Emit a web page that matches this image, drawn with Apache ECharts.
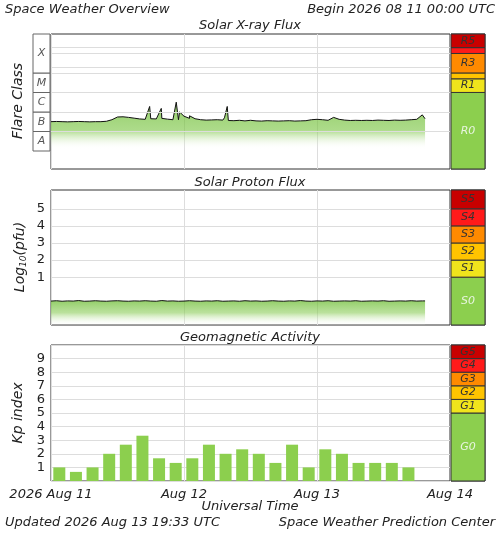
<!DOCTYPE html>
<html><head><meta charset="utf-8">
<script src="https://cdn.jsdelivr.net/npm/echarts@6/dist/echarts.min.js"></script>
<style>html,body{margin:0;padding:0;background:#fff}#c{width:500px;height:533px}</style>
</head><body><div id="c"></div>
<script>
// X-ray flux: log10(W/m2), hourly from 2026-08-11 00:00 UTC
const xrayHourly = [-6.50,-6.49,-6.50,-6.51,-6.50,-6.49,-6.50,-6.51,-6.50,-6.50,-6.48,
 -6.40,-6.26,-6.25,-6.28,-6.32,-6.36,-6.38,-6.35,-6.36,-6.33,-6.37,-6.40,-6.40,
 -6.22,-6.33,-6.35,-6.40,-6.42,-6.41,-6.40,-6.42,-6.44,-6.45,-6.43,-6.46,
 -6.43,-6.46,-6.47,-6.45,-6.46,-6.47,-6.46,-6.45,-6.47,-6.46,-6.45,-6.40,
 -6.38,-6.40,-6.43,-6.28,-6.38,-6.42,-6.44,-6.43,-6.44,-6.43,-6.44,-6.42,
 -6.43,-6.44,-6.42,-6.43,-6.42,-6.40,-6.38,-6.15];
const xraySpikes = [[17.8,-5.72],[18.05,-6.30],[19.9,-5.82],[20.15,-6.30],[22.6,-5.50],[23.2,-6.00],
 [25.0,-6.20],[31.3,-6.30],[31.8,-5.72],[32.05,-6.40],[67.5,-6.35]];
// Proton flux: log10(pfu), hourly
const protonHourly = [-0.40,-0.38,-0.41,-0.39,-0.40,-0.37,-0.41,-0.40,-0.38,-0.40,-0.41,-0.39,
 -0.38,-0.40,-0.41,-0.39,-0.40,-0.38,-0.40,-0.41,-0.37,-0.40,-0.39,-0.41,
 -0.40,-0.38,-0.40,-0.41,-0.39,-0.40,-0.38,-0.41,-0.40,-0.39,-0.41,-0.38,
 -0.40,-0.39,-0.41,-0.40,-0.38,-0.40,-0.41,-0.39,-0.40,-0.37,-0.40,-0.41,
 -0.39,-0.40,-0.38,-0.41,-0.40,-0.39,-0.40,-0.38,-0.41,-0.40,-0.39,-0.40,
 -0.38,-0.41,-0.40,-0.39,-0.40,-0.38,-0.40,-0.39];
// Kp index, 3-hour bins
const kpValues = [1,0.67,1,2,2.67,3.33,1.67,1.33,1.67,2.67,2,2.33,2,1.33,2.67,1,2.33,2,1.33,1.33,1.33,1];
const dayLabels = ['2026 Aug 11','Aug 12','Aug 13','Aug 14'];
const protonTicks = [1,2,3,4,5];
const flareClasses = [['A',-8,-7],['B',-7,-6],['C',-6,-5],['M',-5,-4],['X',-4,-2]];
const rScale = [['R0',-8.93,-5],['R1',-5,-4.3],['',-4.3,-4],['R3',-4,-3],['',-3,-2.7],['R5',-2.7,-2]];
const sScale = [['S0',-1.8,1],['S1',1,2],['S2',2,3],['S3',3,4],['S4',4,5],['S5',5,6.1]];
const gScale = [['G0',0,5],['G1',5,6],['G2',6,7],['G3',7,8],['G4',8,9],['G5',9,10]];
const levelColors = ['#8ccf4e','#f0e41c','#ffc400','#ff8a00','#ff1a1a','#c80000'];

const xrayData = xrayHourly.map((v,i)=>[i,v]).concat(xraySpikes).sort((a,b)=>a[0]-b[0]);
const protonData = protonHourly.map((v,i)=>[i,v]).concat([[67.5,-0.39]]);
const kpData = kpValues.map((v,i)=>[1.5+3*i,v]);

const F = 'DejaVu Sans';
const gray = '#555';
const panels = [{top:34,h:135,min:-8.93,max:-2},{top:190,h:135,min:-1.8,max:6.1},{top:345,h:136,min:0,max:10}];
const grids=[], xAxes=[], yAxes=[], series=[];
function addGrid(left,width,p,xopt,yopt){
  grids.push({left:left,top:p.top,width:width,height:p.h,show:true,backgroundColor:'#fff',borderColor:'#333',borderWidth:1});
  xAxes.push(Object.assign({gridIndex:grids.length-1,type:'value'},xopt));
  yAxes.push(Object.assign({gridIndex:grids.length-1,type:'value',min:p.min,max:p.max},yopt));
  return grids.length-1;
}
function mainX(showLabels){
  return {min:0,max:72,interval:24,axisLine:{show:false},axisTick:{show:false},
    axisLabel:{show:showLabels,formatter:v=>dayLabels[v/24],fontFamily:F,fontStyle:'italic',fontSize:13,color:'#222',margin:7},
    splitLine:{show:true,lineStyle:{color:'#ddd'}}};
}
const hline=vals=>({silent:true,symbol:'none',label:{show:false},lineStyle:{color:'#ddd',type:'solid',width:1},data:vals.map(v=>({yAxis:v}))});
function fade(stops){return new echarts.graphic.LinearGradient(0,0,0,1,stops);}
function scaleSeries(gi,items){
  series.push({type:'scatter',xAxisIndex:gi,yAxisIndex:gi,data:[[0.5,items[0][1]]],symbolSize:0,silent:true,
    markArea:{silent:true,data:items.map((it,k)=>[{yAxis:it[1],xAxis:0,itemStyle:{color:levelColors[k],borderColor:'#333',borderWidth:1},
      label:{show:true,position:'inside',formatter:it[0],fontFamily:F,fontStyle:'italic',fontSize:11,color:k==0?'#e8f5e0':'#333'}},{yAxis:it[2],xAxis:1}])}});
}
// Panel 1 xray
let g=addGrid(51,399,panels[0],mainX(false),{show:false,splitLine:{show:false}});
series.push({type:'line',xAxisIndex:g,yAxisIndex:g,data:xrayData,symbol:'none',lineStyle:{color:'#111',width:1},
  areaStyle:{origin:'start',color:fade([{offset:0,color:'rgba(100,185,40,1)'},{offset:0.42,color:'rgba(125,198,70,0.9)'},{offset:0.7,color:'rgba(255,255,255,0)'},{offset:1,color:'rgba(255,255,255,0)'}])},
  markLine:hline([-7,-6,-5,-4,-3.7,-3,-2.7])});
g=addGrid(451,34,panels[0],{show:false,min:0,max:1},{show:false});
scaleSeries(g,rScale);
g=addGrid(33,17,{top:34,h:117,min:-8,max:-2},{show:false,min:0,max:1},{show:false});
grids[g].borderWidth=0;
series.push({type:'scatter',xAxisIndex:g,yAxisIndex:g,data:[[0.5,-8]],symbolSize:0,silent:true,
  markArea:{silent:true,data:flareClasses.map(c=>[{yAxis:c[1],xAxis:0,itemStyle:{color:'#fff',borderColor:'#666',borderWidth:1},
   label:{show:true,position:'inside',formatter:c[0],fontFamily:F,fontStyle:'italic',fontSize:11,color:gray}},{yAxis:c[2],xAxis:1}])}});
// Panel 2 proton
g=addGrid(51,399,panels[1],mainX(false),{axisLine:{show:false},axisTick:{show:false},
  axisLabel:{customValues:protonTicks,fontFamily:F,fontSize:13,color:'#222',margin:6},
  splitLine:{show:false}});
series.push({type:'line',xAxisIndex:g,yAxisIndex:g,data:protonData,symbol:'none',lineStyle:{color:'#111',width:1},
  areaStyle:{origin:'start',color:fade([{offset:0,color:'rgba(100,185,40,1)'},{offset:0.5,color:'rgba(140,205,90,0.85)'},{offset:1,color:'rgba(255,255,255,0.1)'}])},
  markLine:hline(protonTicks)});
g=addGrid(451,34,panels[1],{show:false,min:0,max:1},{show:false});
scaleSeries(g,sScale);
// Panel 3 kp
g=addGrid(51,399,panels[2],mainX(true),{interval:1,axisLine:{show:false},axisTick:{show:false},
  axisLabel:{formatter:v=>(v>=1&&v<=9)?String(v):'',fontFamily:F,fontSize:13,color:'#222',margin:6},
  splitLine:{show:true,lineStyle:{color:'#ddd'}}});
series.push({type:'bar',xAxisIndex:g,yAxisIndex:g,data:kpData,barWidth:12,itemStyle:{color:'#8ccf4e'}});
g=addGrid(451,34,panels[2],{show:false,min:0,max:1},{show:false});
scaleSeries(g,gScale);

const T=(text,x,y,opt)=>({type:'text',x:x,y:y,style:Object.assign({text:text,fontFamily:F,fontStyle:'italic',fontSize:13,fill:'#222',textVerticalAlign:'middle'},opt||{})});
const chart=echarts.init(document.getElementById('c'),null,{renderer:'canvas'});
chart.setOption({animation:false,backgroundColor:'#fff',grid:grids,xAxis:xAxes,yAxis:yAxes,series:series,
 graphic:[
  T('Space Weather Overview',5,10),
  T('Begin 2026 08 11 00:00 UTC',495,10,{textAlign:'right'}),
  T('Solar X-ray Flux',250,26,{textAlign:'center'}),
  T('Solar Proton Flux',250,183,{textAlign:'center'}),
  T('Geomagnetic Activity',250,338,{textAlign:'center'}),
  T('Universal Time',250,507,{textAlign:'center'}),
  T('Updated 2026 Aug 13 19:33 UTC',5,523),
  T('Space Weather Prediction Center',495,523,{textAlign:'right'}),
  {type:'text',x:18,y:101,rotation:Math.PI/2,style:{text:'Flare Class',fontFamily:F,fontStyle:'italic',fontSize:14,fill:'#222',textAlign:'center',textVerticalAlign:'middle'}},
  {type:'text',x:20,y:257,rotation:Math.PI/2,style:{text:'{a|Log}{b|10}{a|(pfu)}',rich:{a:{fontFamily:F,fontStyle:'italic',fontSize:14,fill:'#222'},b:{fontFamily:F,fontStyle:'italic',fontSize:9,fill:'#222',padding:[8,0,0,0]}},textAlign:'center',textVerticalAlign:'middle'}},
  {type:'text',x:18,y:413,rotation:Math.PI/2,style:{text:'Kp index',fontFamily:F,fontStyle:'italic',fontSize:14,fill:'#222',textAlign:'center',textVerticalAlign:'middle'}}
 ]});
</script></body></html>
